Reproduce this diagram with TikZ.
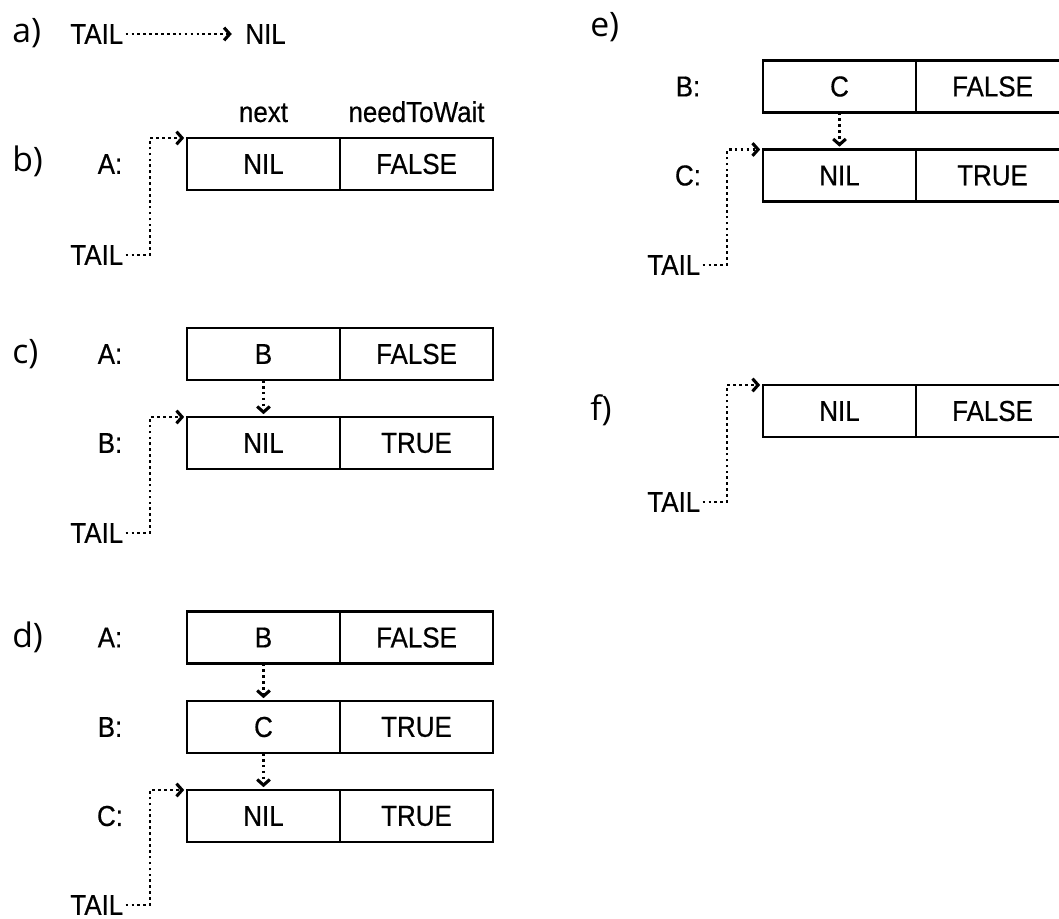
\documentclass[tikz,border=0pt]{standalone}
\usepackage{fontspec}
\setmainfont{Liberation Sans}[FakeStretch=0.9, FakeBold=0.5]
\newfontfamily\partfont{Open Sans}
\usetikzlibrary{arrows.meta}

\newcommand{\Record}[5]{% name, x of next cell, y, next, needToWait
\node[cell] (#1n) at (#2,#3) {#4};
\node[cell, anchor=west] (#1w) at (#1n.east) {#5};
\draw[frame] (#1n.north west) rectangle (#1w.south east);
\draw[divider] (#1n.north east)--(#1n.south east);
}
\newcommand{\TailPointer}[5]{% tail name, record, x of TAIL, y of TAIL, x of riser
\node[tail] (#1) at (#3,#4) {TAIL};
\coordinate (#1riser) at (#5,#4);
\coordinate (#1top) at (#1riser |- #2n.north);
\draw[ptr] (#1.east) -- (#1riser) -- (#1top) -- ([xshift=-2pt]#2n.north west);
}

\begin{document}
\begin{tikzpicture}[x=.025cm, y=-.025cm,
font=\fontsize{20.5}{24}\selectfont,
>={Straight Barb[length=4pt,width=9pt,line width=2.2pt]},
cell/.style={minimum width=3.825cm, minimum height=1.3cm, inner sep=0, outer sep=0},
frame/.style={line width=2pt},
divider/.style={line width=1.5pt},
ptr/.style={->, line width=1.9pt, dash pattern=on 1.9pt off 2.3pt},
tail/.style={anchor=west, inner sep=1.5pt},
part/.style={font=\partfont\fontsize{24}{30}\selectfont, anchor=base west, inner sep=0},
rowlabel/.style={inner sep=0},
]
\useasboundingbox (0,0) rectangle (1059,919);
\clip (0,0) rectangle (1059,919);

%%%%%%%%%%%%%%%%%%%%%%%% a) %%%%%%%%%%%%%%%%%%%%%%%%
\node[part] (pa) at (12,43) {a)};
\node[tail] (aTail) at (68,34) {TAIL};
\node[tail] (aNil) at (243,34) {NIL};
\draw[ptr, shorten >=8pt] (aTail.east) -- (aNil.west);

%%%%%%%%%%%%%%%%%%%%%%%% b) %%%%%%%%%%%%%%%%%%%%%%%%
\node[part] (pb) at (12,172) {b)};
\node[anchor=base] (hNext) at (263.5,122) {next};
\node[anchor=base] (hWait) at (416.5,122) {needToWait};
\node[rowlabel] (bLA) at (110,164) {A:};
\Record{bA}{263.5}{164}{NIL}{FALSE}
\TailPointer{bTail}{bA}{68}{255}{150}

%%%%%%%%%%%%%%%%%%%%%%%% c) %%%%%%%%%%%%%%%%%%%%%%%%
\node[part] (pc) at (12,363) {c)};
\node[rowlabel] (cLA) at (110,354) {A:};
\node[rowlabel] (cLB) at (110,443) {B:};
\Record{cA}{263.5}{354}{B}{FALSE}
\Record{cB}{263.5}{443}{NIL}{TRUE}
\draw[ptr, shorten >=2pt] (cAn.south) -- (cBn.north);
\TailPointer{cTail}{cB}{68}{533}{150}

%%%%%%%%%%%%%%%%%%%%%%%% d) %%%%%%%%%%%%%%%%%%%%%%%%
\node[part] (pd) at (12,647) {d)};
\node[rowlabel] (dLA) at (110,637.5) {A:};
\node[rowlabel] (dLB) at (110,727) {B:};
\node[rowlabel] (dLC) at (110,816) {C:};
\Record{dA}{263.5}{637.5}{B}{FALSE}
\Record{dB}{263.5}{727}{C}{TRUE}
\Record{dC}{263.5}{816}{NIL}{TRUE}
\draw[ptr, shorten >=2pt] (dAn.south) -- (dBn.north);
\draw[ptr, shorten >=2pt] (dBn.south) -- (dCn.north);
\TailPointer{dTail}{dC}{68}{905}{150}

%%%%%%%%%%%%%%%%%%%%%%%% e) %%%%%%%%%%%%%%%%%%%%%%%%
\node[part] (pe) at (590,37) {e)};
\node[rowlabel] (eLB) at (688,86.5) {B:};
\node[rowlabel] (eLC) at (688,175.5) {C:};
\Record{eB}{839.5}{86.5}{C}{FALSE}
\Record{eC}{839.5}{175.5}{NIL}{TRUE}
\draw[ptr, shorten >=2pt] (eBn.south) -- (eCn.north);
\TailPointer{eTail}{eC}{645}{265}{727}

%%%%%%%%%%%%%%%%%%%%%%%% f) %%%%%%%%%%%%%%%%%%%%%%%%
\node[part] (pf) at (590,420) {f)};
\Record{fA}{839.5}{411}{NIL}{FALSE}
\TailPointer{fTail}{fA}{645}{502}{727}
\end{tikzpicture}
\end{document}
